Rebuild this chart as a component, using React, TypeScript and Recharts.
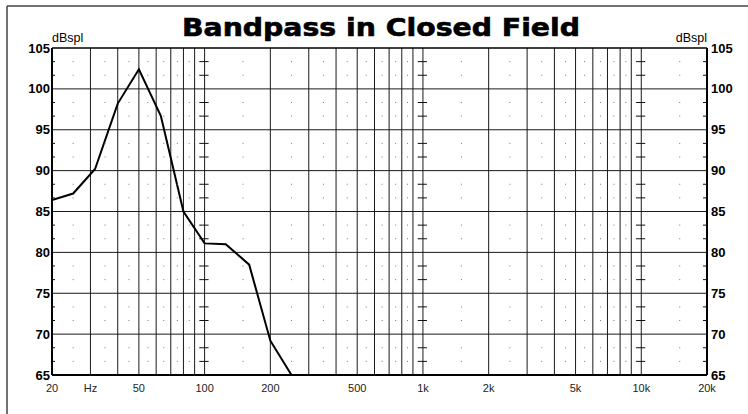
import {
  ComposedChart,
  Line,
  ReferenceLine,
  Scatter,
  XAxis,
  YAxis,
} from "recharts";

// Measured response (Hz / dB SPL)
const FREQ = [20, 25, 31.5, 40, 50, 63, 80, 100, 125, 160, 200, 250, 20000];
const SPL = [86.4, 87.2, 90.2, 98.2, 102.4, 96.7, 85.0, 81.1, 81.0, 78.5, 69.2, 65, 65];

// Axis ticks and grid
const X_TICKS = [20, 30, 50, 100, 200, 500, 1000, 2000, 5000, 10000, 20000];
const X_LABELS = ["20", "Hz", "50", "100", "200", "500", "1k", "2k", "5k", "10k", "20k"];
const Y_TICKS = [65, 70, 75, 80, 85, 90, 95, 100, 105];
const GRID_FREQS = [
  30, 40, 50, 60, 70, 80, 90, 100,
  200, 300, 400, 500, 600, 700, 800, 900, 1000,
  2000, 3000, 4000, 5000, 6000, 7000, 8000, 9000, 10000,
];
const DOT_FREQS = [
  25, 35, 45, 55, 65, 75, 85, 95,
  150, 250, 350, 450, 550, 650, 750, 850, 950,
  1500, 2500, 3500, 4500, 5500, 6500, 7500, 8500, 9500,
  15000,
];
const DECADES = [100, 1000, 10000];

// minor rows: thirds of each 5 dB step
const DOT_ROWS = Y_TICKS.slice(0, -1).flatMap((v) => [v + 5 / 3, v + 10 / 3]);

const lineData = FREQ.map((f, i) => ({ f, db: SPL[i] }));
const dotData = DOT_FREQS.flatMap((f) => DOT_ROWS.map((db) => ({ f, db })));
const decadeData = DECADES.flatMap((f) => DOT_ROWS.map((db) => ({ f, db })));
const leftEdgeData = DOT_ROWS.map((db) => ({ f: 20, db }));
const rightEdgeData = DOT_ROWS.map((db) => ({ f: 20000, db }));

const W = 748;
const H = 414;

const dotShape = (p: any) => (
  <rect x={p.cx - 0.5} y={p.cy - 0.5} width={1} height={1} fill="#777" />
);
const dashShape = (p: any) => (
  <line x1={p.cx - 5} x2={p.cx + 4} y1={p.cy} y2={p.cy} stroke="#111" strokeWidth={1} />
);
const leftDash = (p: any) => (
  <line x1={p.cx} x2={p.cx + 3} y1={p.cy} y2={p.cy} stroke="#111" strokeWidth={1} />
);
const rightDash = (p: any) => (
  <line x1={p.cx - 4} x2={p.cx} y1={p.cy} y2={p.cy} stroke="#111" strokeWidth={1} />
);

const XTick = ({ x, y, payload }: any) => {
  const idx = X_TICKS.indexOf(payload.value);
  return (
    <text
      x={x}
      y={y}
      dy={17}
      textAnchor="middle"
      fontFamily="Liberation Sans, Arial, sans-serif"
      fontSize={11}
      fill="#222"
    >
      {X_LABELS[idx]}
    </text>
  );
};

const LeftTick = ({ x, y, payload }: any) => (
  <text
    x={x}
    y={y}
    dy={4.5}
    textAnchor="end"
    fontFamily="Liberation Sans, Arial, sans-serif"
    fontWeight="bold"
    fontSize={13}
    fill="#000"
  >
    {payload.value}
  </text>
);

const RightTick = ({ x, y, payload }: any) => (
  <text
    x={x}
    y={y}
    dy={4.5}
    textAnchor="start"
    fontFamily="Liberation Sans, Arial, sans-serif"
    fontWeight="bold"
    fontSize={13}
    fill="#000"
  >
    {payload.value}
  </text>
);

export default function App() {
  return (
    <div
      style={{
        position: "absolute",
        left: 0,
        top: 0,
        width: W,
        height: H,
        background: "#fff",
      }}
    >
      <ComposedChart
        width={W}
        height={H}
        data={lineData}
        margin={{ top: 48, right: 0, bottom: 0, left: 0 }}
      >
        <XAxis
          dataKey="f"
          type="number"
          scale="log"
          domain={[20, 20000]}
          allowDataOverflow
          ticks={X_TICKS}
          interval={0}
          height={39}
          tickSize={0}
          tickMargin={0}
          tick={<XTick />}
          axisLine={{ stroke: "#000", strokeWidth: 2 }}
        />
        <YAxis
          dataKey="db"
          domain={[65, 105]}
          allowDataOverflow
          ticks={Y_TICKS}
          interval={0}
          width={52}
          tickSize={0}
          tickMargin={2}
          tick={<LeftTick />}
          axisLine={{ stroke: "#000", strokeWidth: 2 }}
        />
        <YAxis
          yAxisId="r"
          orientation="right"
          domain={[65, 105]}
          allowDataOverflow
          ticks={Y_TICKS}
          interval={0}
          width={41}
          tickSize={0}
          tickMargin={4}
          tick={<RightTick />}
          axisLine={{ stroke: "#000", strokeWidth: 2 }}
        />

        {GRID_FREQS.map((f) => (
          <ReferenceLine key={`v${f}`} x={f} stroke="#1a1a1a" strokeWidth={1} />
        ))}
        {Y_TICKS.slice(1, -1).map((v) => (
          <ReferenceLine key={`h${v}`} y={v} stroke="#1a1a1a" strokeWidth={1} />
        ))}
        <ReferenceLine y={105} stroke="#000" strokeWidth={1.5} />

        <Scatter data={dotData} shape={dotShape} isAnimationActive={false} legendType="none" />
        <Scatter data={decadeData} shape={dashShape} isAnimationActive={false} legendType="none" />
        <Scatter data={leftEdgeData} shape={leftDash} isAnimationActive={false} legendType="none" />
        <Scatter data={rightEdgeData} shape={rightDash} isAnimationActive={false} legendType="none" />

        <Line
          dataKey="db"
          type="linear"
          stroke="#000"
          strokeWidth={2}
          dot={false}
          activeDot={false}
          isAnimationActive={false}
        />
      </ComposedChart>

      <svg
        width={W}
        height={H}
        style={{ position: "absolute", left: 0, top: 0, pointerEvents: "none" }}
      >
        <line x1={7} x2={W} y1={6} y2={6} stroke="#444" strokeWidth={1.5} />
        <line x1={7} x2={7} y1={6} y2={H} stroke="#444" strokeWidth={1.5} />
        <text
          x={182}
          y={36}
          fontFamily="DejaVu Sans, sans-serif"
          fontWeight="bold"
          fontSize={24}
          textLength={398}
          lengthAdjust="spacingAndGlyphs"
          fill="#000"
          stroke="#000"
          strokeWidth={0.6}
        >
          Bandpass in Closed Field
        </text>
        <text
          x={52}
          y={42}
          fontFamily="Liberation Sans, Arial, sans-serif"
          fontSize={12.5}
          fill="#000"
        >
          dBspl
        </text>
        <text
          x={707}
          y={42}
          textAnchor="end"
          fontFamily="Liberation Sans, Arial, sans-serif"
          fontSize={12.5}
          fill="#000"
        >
          dBspl
        </text>
      </svg>
    </div>
  );
}
